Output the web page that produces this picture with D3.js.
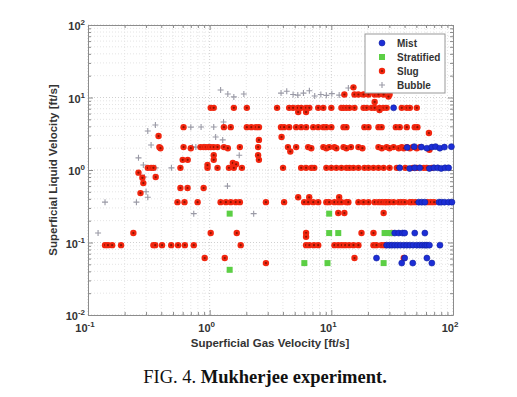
<!DOCTYPE html>
<html lang="en">
<head>
    <meta charset="UTF-8">
    <title>Mukherjee experiment</title>
    <script src="https://d3js.org/d3.v7.min.js"></script>
    <style>
        body { margin: 0; background: #fff; }
        svg text { font-family: "Liberation Sans", Arial, sans-serif; }
    </style>
</head>
<body>
<svg id="chart" width="517" height="397"></svg>
<script>
    // [gas velocity, liquid velocity] in ft/s
    const mist = [
        [32.5, 7.2],
        [42, 2.05], [48, 2.1], [55, 2.07], [61, 2.0], [67, 2.07], [72, 2.1], [78, 2.0], [85, 2.07], [97, 2.1],
        [36.5, 1.07], [44, 1.05], [48.5, 1.07], [53.3, 1.07], [64, 1.05], [69.7, 1.07], [75, 1.07], [80, 1.05], [86, 1.07], [92, 1.07],
        [52.3, 0.36], [55.4, 0.36], [58.7, 0.36], [76.6, 0.36], [80, 0.36], [85, 0.36], [92, 0.36], [98, 0.36],
        [33.2, 0.135], [35.8, 0.135], [38.5, 0.135], [40.1, 0.135], [48.5, 0.135], [58.7, 0.135],
        [28.5, 0.092], [30.1, 0.092], [31.5, 0.092], [33.2, 0.092], [35, 0.092], [37, 0.092], [39.4, 0.092], [41.7, 0.092],
        [44.2, 0.092], [47, 0.092], [50.4, 0.092], [53.3, 0.092], [56, 0.092], [58.7, 0.092], [61, 0.092], [64, 0.092], [78.1, 0.092],
        [23.5, 0.061], [40.1, 0.061], [61, 0.061],
        [37.9, 0.052], [46.7, 0.052], [67, 0.052]
    ];
    const stratified = [
        [1.46, 0.25], [1.46, 0.042], [9.6, 0.25], [9.6, 0.135], [11.4, 0.135],
        [27.4, 0.135], [29, 0.135], [31, 0.135], [6.0, 0.052], [9.3, 0.052], [26.9, 0.052]
    ];
    const slug = [
        // ~0.09 ft/s
        [0.138, 0.092], [0.146, 0.092], [0.158, 0.092], [0.187, 0.092], [0.345, 0.092], [0.357, 0.092], [0.406, 0.092],
        [0.483, 0.092], [0.55, 0.092], [0.625, 0.092], [0.74, 0.092], [1.8, 0.092], [6.2, 0.092], [6.6, 0.092], [7.2, 0.092],
        [7.8, 0.092], [10.6, 0.092], [11.4, 0.092], [12.2, 0.092], [13.0, 0.092], [14.0, 0.092], [15.2, 0.092], [16.7, 0.092],
        [22.2, 0.092], [23.5, 0.092], [25.9, 0.092], [27.4, 0.092],
        [0.91, 0.061], [1.33, 0.061], [15.5, 0.061], [39.4, 0.061], [2.9, 0.052],
        [0.236, 0.135], [1.02, 0.135], [1.67, 0.135], [6.2, 0.135], [6.2, 0.12], [17.7, 0.135], [22.2, 0.135], [31.3, 0.135],
        [11.4, 0.255], [12.8, 0.255], [26.9, 0.255],
        // ~0.36 - 0.9 ft/s
        [0.575, 0.565], [0.658, 0.565], [0.892, 0.565], [5.34, 0.42], [6.58, 0.42], [11.6, 0.42],
        [0.544, 0.36], [0.621, 0.36], [0.796, 0.36], [1.23, 0.36], [1.36, 0.36], [1.49, 0.36], [1.64, 0.36], [1.77, 0.36],
        [2.9, 0.36], [4.09, 0.36], [5.98, 0.36], [6.45, 0.36], [7.1, 0.36], [7.8, 0.36], [9.1, 0.36], [9.6, 0.36], [10.6, 0.36],
        [11.4, 0.36], [12.1, 0.36], [13.3, 0.36], [13.8, 0.36], [16.7, 0.36], [18.4, 0.36], [20.2, 0.36], [22.7, 0.36],
        [24.4, 0.36], [25.9, 0.36], [27.4, 0.36], [28.5, 0.36], [30.1, 0.36], [32.5, 0.36], [35.8, 0.36], [37.9, 0.36],
        [40.1, 0.36], [44.2, 0.36], [46, 0.36], [49, 0.36], [62, 0.36], [66, 0.36], [70, 0.36],
        [0.27, 0.48], [0.285, 0.66], [0.28, 0.78], [0.26, 0.92], [0.36, 0.8],
        // ~1 ft/s
        [0.31, 1.07], [0.33, 1.07], [0.345, 1.07], [0.575, 1.07], [0.96, 1.07], [1.16, 1.07], [1.44, 1.07], [1.58, 1.07],
        [1.84, 1.07], [4.01, 1.07], [5.65, 1.07], [6.2, 1.07], [6.84, 1.07], [7.24, 1.07], [9.1, 1.07], [10.0, 1.07],
        [11.0, 1.07], [12.1, 1.07], [13.3, 1.07], [14.1, 1.07], [15.2, 1.07], [16.7, 1.07], [18.7, 1.07], [20.2, 1.07],
        [22.2, 1.07], [24.4, 1.07], [26.9, 1.07], [30.1, 1.07], [34.5, 1.07], [40.5, 1.07], [46.7, 1.07], [50.4, 1.07],
        [57.5, 1.07], [61.0, 1.07], [67.0, 1.07],
        [0.6, 1.38], [0.66, 1.38], [0.96, 1.17], [1.08, 1.38], [2.54, 1.38], [1.55, 1.25], [1.65, 1.2],
        // ~2 ft/s
        [0.386, 2.07], [0.394, 2.0], [0.61, 2.07], [0.70, 2.0], [0.84, 2.07], [0.89, 2.07], [0.93, 2.07], [0.98, 2.07],
        [1.02, 2.07], [1.08, 2.07], [1.16, 2.07], [1.31, 2.07], [1.41, 2.0], [1.77, 2.07], [2.5, 2.07], [4.4, 2.07],
        [5.14, 2.07], [6.45, 2.07], [6.84, 2.0], [8.6, 2.07], [9.1, 2.0], [9.6, 2.07], [10.6, 2.07], [11.0, 2.0],
        [12.6, 2.07], [13.3, 2.0], [14.5, 2.07], [16.7, 2.07], [18.0, 2.0], [24.4, 2.07], [26.0, 2.0], [28.5, 2.07],
        [30.1, 2.0], [32.5, 2.07], [35.8, 2.0], [37.9, 2.07], [39.4, 2.0], [41.7, 2.07], [44.2, 2.0], [46.7, 2.07],
        [50.4, 2.0], [53.3, 2.07], [64, 1.9],
        [0.38, 2.94], [3.9, 2.85], [2.54, 2.6], [2.5, 1.6], [1.08, 1.6], [4.6, 1.8],
        // ~4 ft/s
        [0.61, 3.9], [1.31, 3.9], [1.49, 3.9], [2.02, 3.9], [2.2, 3.9], [2.4, 3.9], [2.54, 3.9], [3.86, 3.9],
        [4.09, 3.9], [4.5, 3.9], [5.14, 3.9], [5.65, 3.9], [6.21, 3.9], [7.1, 3.9], [7.8, 3.9], [8.6, 3.9],
        [9.1, 3.9], [10.0, 3.9], [12.6, 3.9], [13.3, 3.9], [18.7, 3.9], [20.2, 3.9], [24.4, 3.9], [25.9, 3.9],
        [33.9, 3.9], [36.5, 3.9], [41.7, 3.9], [48.5, 3.9], [51.0, 3.9], [63.4, 3.24],
        // ~7 ft/s
        [1.02, 7.2], [1.08, 7.2], [1.58, 7.2], [2.02, 7.2], [3.58, 7.2], [4.5, 7.2], [4.85, 7.2], [5.3, 7.2],
        [5.65, 7.2], [6.2, 7.2], [6.6, 7.2], [7.8, 7.2], [8.6, 7.2], [10.0, 7.2], [12.1, 7.2], [12.6, 7.2],
        [13.3, 7.2], [14.1, 7.2], [15.5, 7.2], [18.4, 7.2], [19.5, 7.2], [21.4, 7.2], [22.7, 7.2], [24.9, 7.2],
        [26.9, 7.2], [28.5, 7.2], [37.9, 7.2], [41.7, 7.2], [44.2, 7.2], [50.4, 7.2], [5.34, 6.3], [6.2, 6.3],
        // ~11 ft/s
        [12.8, 11], [15.5, 11], [16.7, 11], [18.4, 11], [20.2, 11], [22.7, 11], [24.4, 11], [26.9, 11],
        [30.1, 11], [15.2, 13.8], [22.7, 8.7], [24.9, 6.7], [29.5, 10.3], [22, 12]
    ];
    const bubble = [
        [0.121, 0.135], [0.138, 0.36], [0.25, 0.36], [0.31, 0.42], [0.74, 0.25], [1.4, 0.6], [2.3, 0.25],
        [0.26, 1.47], [0.285, 1.17], [0.36, 1.07], [0.485, 1.07], [0.31, 3.45], [0.358, 4.18], [0.33, 2.21],
        [0.29, 0.8], [0.7, 3.9], [0.85, 3.92], [1.08, 3.92], [1.12, 2.85], [0.72, 2.07], [0.77, 2.07],
        [0.98, 2.1], [1.28, 2.6], [1.3, 4.6], [1.75, 1.6],
        [1.23, 12.7], [1.41, 11.2], [1.58, 10.2], [1.91, 11.2],
        [3.86, 11.5], [4.3, 12.2], [4.85, 11], [5.3, 10.8], [5.9, 11.5], [6.6, 12.4], [7.3, 10.5],
        [8.2, 11], [9.1, 10.7], [10.1, 11.3], [11.6, 10.8], [13.8, 13.5], [0.3, 0.5]
    ];
    const series = [
        {name: 'Mist', data: mist},
        {name: 'Stratified', data: stratified},
        {name: 'Slug', data: slug},
        {name: 'Bubble', data: bubble}
    ];
    const decades = [0.01, 0.1, 1, 10, 100];

    const svg = d3.select('#chart');
    const margin = {left: 88, right: 64, top: 25, bottom: 82};
    const width = 517, height = 397;
    const x = d3.scaleLog().domain([0.1, 100]).range([margin.left, width - margin.right]);
    const y = d3.scaleLog().domain([0.01, 100]).range([height - margin.bottom, margin.top]);

    const minor = (lo, hi) => {
        const out = [];
        for (let p = lo; p < hi * 0.999; p *= 10)
            for (let k = 1; k < 10; k++) out.push(+(p * k).toPrecision(3));
        out.push(hi);
        return out;
    };
    const xTicks = minor(0.1, 100);
    const yTicks = minor(0.01, 100);
    const isDecade = d => decades.includes(d);

    // grid
    const grid = svg.append('g').attr('class', 'grid');
    grid.selectAll('line.gx').data(xTicks).join('line')
        .attr('x1', d => x(d)).attr('x2', d => x(d))
        .attr('y1', y.range()[0]).attr('y2', y.range()[1])
        .attr('stroke', d => isDecade(d) ? '#cfcfcf' : '#e4e4e4')
        .attr('stroke-dasharray', '1,2');
    grid.selectAll('line.gy').data(yTicks).join('line')
        .attr('y1', d => y(d)).attr('y2', d => y(d))
        .attr('x1', x.range()[0]).attr('x2', x.range()[1])
        .attr('stroke', d => isDecade(d) ? '#cfcfcf' : '#e4e4e4')
        .attr('stroke-dasharray', '1,2');

    // axes (ticks pointing inward, MATLAB style)
    const axisColor = '#8c8c8c';
    const tickLen = d => isDecade(d) ? -5 : -3;
    function styleAxis(g) {
        g.select('.domain').attr('stroke', axisColor);
        g.selectAll('.tick line').attr('stroke', axisColor);
        g.selectAll('.tick text').remove();
    }
    const gx = svg.append('g').attr('transform', `translate(0,${y.range()[0]})`)
        .call(d3.axisBottom(x).tickValues(xTicks).tickSizeOuter(0).tickFormat(''));
    gx.selectAll('.tick line').attr('y2', d => tickLen(d));
    styleAxis(gx);
    const gxTop = svg.append('g').attr('transform', `translate(0,${y.range()[1]})`)
        .call(d3.axisTop(x).tickValues(xTicks).tickSizeOuter(0).tickFormat(''));
    gxTop.selectAll('.tick line').attr('y2', d => -tickLen(d));
    styleAxis(gxTop);
    const gy = svg.append('g').attr('transform', `translate(${x.range()[0]},0)`)
        .call(d3.axisLeft(y).tickValues(yTicks).tickSizeOuter(0).tickFormat(''));
    gy.selectAll('.tick line').attr('x2', d => -tickLen(d));
    styleAxis(gy);
    const gyRight = svg.append('g').attr('transform', `translate(${x.range()[1]},0)`)
        .call(d3.axisRight(y).tickValues(yTicks).tickSizeOuter(0).tickFormat(''));
    gyRight.selectAll('.tick line').attr('x2', d => tickLen(d));
    styleAxis(gyRight);

    // power-of-ten labels
    function powLabel(sel) {
        sel.append('tspan').text('10');
        sel.append('tspan').attr('dy', -5).attr('font-size', 8).text(d => Math.round(Math.log10(d)));
    }
    svg.append('g').selectAll('text').data(decades.slice(1)).join('text')
        .attr('x', d => x(d) - 3).attr('y', y.range()[0] + 17)
        .attr('text-anchor', 'middle').attr('font-size', 11).attr('font-weight', 'bold').attr('fill', '#333')
        .call(powLabel);
    svg.append('g').selectAll('text').data(decades).join('text')
        .attr('x', x.range()[0] - 3).attr('y', d => y(d) + 5)
        .attr('text-anchor', 'end').attr('font-size', 11).attr('font-weight', 'bold').attr('fill', '#333')
        .call(powLabel);

    // axis titles
    svg.append('text').text('Superficial Gas Velocity [ft/s]')
        .attr('x', 270).attr('y', y.range()[0] + 32)
        .attr('text-anchor', 'middle').attr('font-size', 11.5).attr('font-weight', 'bold').attr('fill', '#333');
    svg.append('text').text('Superficial Liquid Velocity [ft/s]')
        .attr('transform', `translate(57,${(y.range()[0] + y.range()[1]) / 2}) rotate(-90)`)
        .attr('text-anchor', 'middle').attr('font-size', 11.5).attr('font-weight', 'bold').attr('fill', '#333');

    // markers
    const plot = svg.append('g');
    const drawMarker = {
        Mist: (g, px, py) => g.append('circle').attr('cx', px).attr('cy', py).attr('r', 3)
            .attr('fill', '#1c2ed6').attr('stroke', '#1020a0').attr('stroke-width', 0.6),
        Stratified: (g, px, py) => g.append('rect').attr('x', px - 3).attr('y', py - 3).attr('width', 6).attr('height', 6)
            .attr('fill', '#5ccf45'),
        Slug: (g, px, py) => {
            g.append('circle').attr('cx', px).attr('cy', py).attr('r', 3.2).attr('fill', '#f2260f');
            g.append('circle').attr('cx', px).attr('cy', py).attr('r', 1.1).attr('fill', '#8a1400');
        },
        Bubble: (g, px, py) => g.append('path').attr('d', `M${px - 3},${py}H${px + 3}M${px},${py - 3}V${py + 3}`)
            .attr('stroke', '#9a9aa6').attr('stroke-width', 1.1)
    };
    ['Bubble', 'Slug', 'Stratified', 'Mist'].forEach(name => {
        const s = series.find(d => d.name === name);
        const g = plot.append('g').attr('class', name);
        s.data.forEach(d => drawMarker[name](g, x(d[0]), y(d[1])));
    });

    // legend
    const lg = svg.append('g').attr('transform', 'translate(365,34)');
    lg.append('rect').attr('width', 80).attr('height', 59)
        .attr('fill', '#fff').attr('stroke', '#999').attr('stroke-width', 1);
    series.forEach((s, i) => {
        const cy = 9 + i * 14;
        drawMarker[s.name](lg, 17, cy);
        lg.append('text').text(s.name).attr('x', 32).attr('y', cy + 3.5)
            .attr('font-size', 10).attr('font-weight', 'bold').attr('fill', '#333');
    });

    // caption
    const cap = svg.append('text').attr('x', 265).attr('y', 383).attr('text-anchor', 'middle')
        .attr('font-size', 18.5).attr('fill', '#111')
        .style('font-family', '"Liberation Serif", "Times New Roman", serif');
    cap.append('tspan').text('FIG. 4. ');
    cap.append('tspan').attr('font-weight', 'bold').text('Mukherjee experiment.');
</script>
</body>
</html>
